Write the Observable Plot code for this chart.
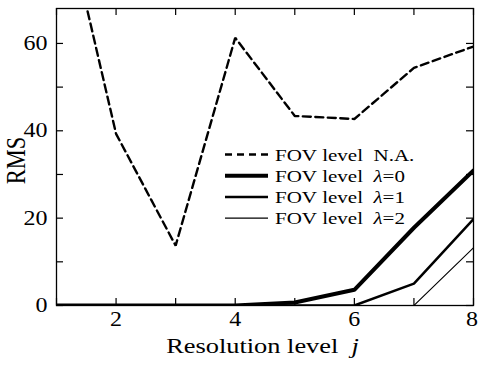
<!DOCTYPE html>
<html>
<head>
<meta charset="utf-8">
<script src="https://cdn.jsdelivr.net/npm/d3@7"></script>
<script src="https://cdn.jsdelivr.net/npm/@observablehq/plot@0.6"></script>
<style>
  html, body { margin: 0; padding: 0; background: #fff; }
</style>
</head>
<body>
<div id="chart"></div>
<script>
// ---- data ----
const jLevels = [1, 2, 3, 4, 5, 6, 7, 8];
const rmsNA = [98, 39.3, 13.7, 61.3, 43.4, 42.7, 54.4, 59.3];
const rmsL0 = [0, 0, 0, 0, 0.7, 3.6, 17.8, 30.9];
const rmsL1 = [0, 0, 0, 0, 0, 0, 5.0, 19.8];
const rmsL2 = [0, 0, 0, 0, 0, 0, 0, 13.2];
const seriesNames = ["FOV level  N.A.", "FOV level  λ=0", "FOV level  λ=1", "FOV level  λ=2"];
const xTickValues = [1, 2, 3, 4, 5, 6, 7, 8];
const xTickLabels = [2, 4, 6, 8];
const yTickValues = [0, 10, 20, 30, 40, 50, 60];
const yTickLabels = [0, 20, 40, 60];
const xLabel = "Resolution level";
const xLabelItalic = "j";
const yLabel = "RMS";

// ---- layout ----
const W = 478, H = 366;
const mL = 56, mR = 5, mT = 8, mB = 61;
const plotW = W - mL - mR, plotH = H - mT - mB;
const tickLen = 7;
const SX = 1.2; // horizontal stretch of the reference's type

const toRows = (vals) => jLevels.map((j, i) => ({j, v: vals[i]}));
const series = [
  {name: seriesNames[0], rows: toRows(rmsNA), width: 2.4, dash: "8,4.5"},
  {name: seriesNames[1], rows: toRows(rmsL0), width: 4, dash: null},
  {name: seriesNames[2], rows: toRows(rmsL1), width: 2.5, dash: null},
  {name: seriesNames[3], rows: toRows(rmsL2), width: 1.1, dash: null}
];

const lineMarks = series.map(s => Plot.line(s.rows, {
  x: "j", y: "v", stroke: "black", strokeWidth: s.width,
  strokeDasharray: s.dash || undefined, clip: true, strokeLinejoin: "miter"
}));

const tickStyle = {stroke: "black", strokeWidth: 1.2};

const plot = Plot.plot({
  width: W, height: H,
  marginLeft: mL, marginRight: mR, marginTop: mT, marginBottom: mB,
  style: {fontFamily: "'Liberation Serif', 'Times New Roman', serif", fontSize: "20px", background: "white", color: "black"},
  x: {domain: [1, 8], axis: null},
  y: {domain: [0, 68], axis: null},
  marks: [
    ...lineMarks.reverse(),
    // inward ticks on all four sides
    Plot.tickX(xTickValues, {x: d => d, insetTop: plotH - tickLen, ...tickStyle}),
    Plot.tickX(xTickValues, {x: d => d, insetBottom: plotH - tickLen, ...tickStyle}),
    Plot.tickY(yTickValues, {y: d => d, insetRight: plotW - tickLen, ...tickStyle}),
    Plot.tickY(yTickValues, {y: d => d, insetLeft: plotW - tickLen, ...tickStyle}),
    Plot.axisX({ticks: xTickLabels, tickSize: 0, tickPadding: 6, tickFormat: d => String(d), label: null}),
    Plot.axisY({ticks: yTickLabels, tickSize: 0, tickPadding: 9, tickFormat: d => String(d), label: null}),
    Plot.frame({stroke: "black", strokeWidth: 1.3})
  ]
});

const svg = d3.select(plot);
// horizontal stretch of tick labels
svg.selectAll("text").each(function() {
  const t = this.getAttribute("transform") || "";
  const nudge = this.textContent === String(xTickLabels[xTickLabels.length - 1]) ? "translate(-1.5,0) " : "";
  this.setAttribute("transform", nudge + t + ` scale(${SX},1)`);
});

const fam = "'Liberation Serif', 'Times New Roman', serif";
// x axis label
const xl = svg.append("text")
  .attr("transform", `translate(${mL + plotW / 2 - 2},353) scale(${SX},1)`)
  .attr("text-anchor", "middle").attr("font-family", fam).attr("font-size", 22)
  .style("white-space", "pre");
xl.append("tspan").text(xLabel + "\u00a0\u00a0");
xl.append("tspan").attr("font-style", "italic").text(xLabelItalic);

// y axis label (rotated)
svg.append("text")
  .attr("transform", `translate(25,${mT + plotH / 2 + 4}) rotate(-90) scale(1,${SX})`)
  .attr("text-anchor", "middle").attr("font-family", fam).attr("font-size", 22.5)
  .text(yLabel);

// legend
const lg = svg.append("g");
series.forEach((s, i) => {
  const yy = 154.5 + i * 21.2;
  lg.append("line").attr("x1", 225).attr("x2", 268).attr("y1", yy).attr("y2", yy)
    .attr("stroke", "black").attr("stroke-width", s.width)
    .attr("stroke-dasharray", s.dash ? "7,5" : null);
  const t = lg.append("text")
    .attr("transform", `translate(275,${yy + 6.3}) scale(${SX},1)`)
    .attr("text-anchor", "start")
    .attr("font-family", fam).attr("font-size", 17.5).style("white-space", "pre");
  const parts = s.name.split("λ");
  t.append("tspan").text(parts[0].replace(/ /g, "\u00a0"));
  if (parts.length > 1) {
    t.append("tspan").attr("font-style", "italic").text("λ");
    t.append("tspan").text(parts[1]);
  }
});

document.getElementById("chart").appendChild(plot);
</script>
</body>
</html>
